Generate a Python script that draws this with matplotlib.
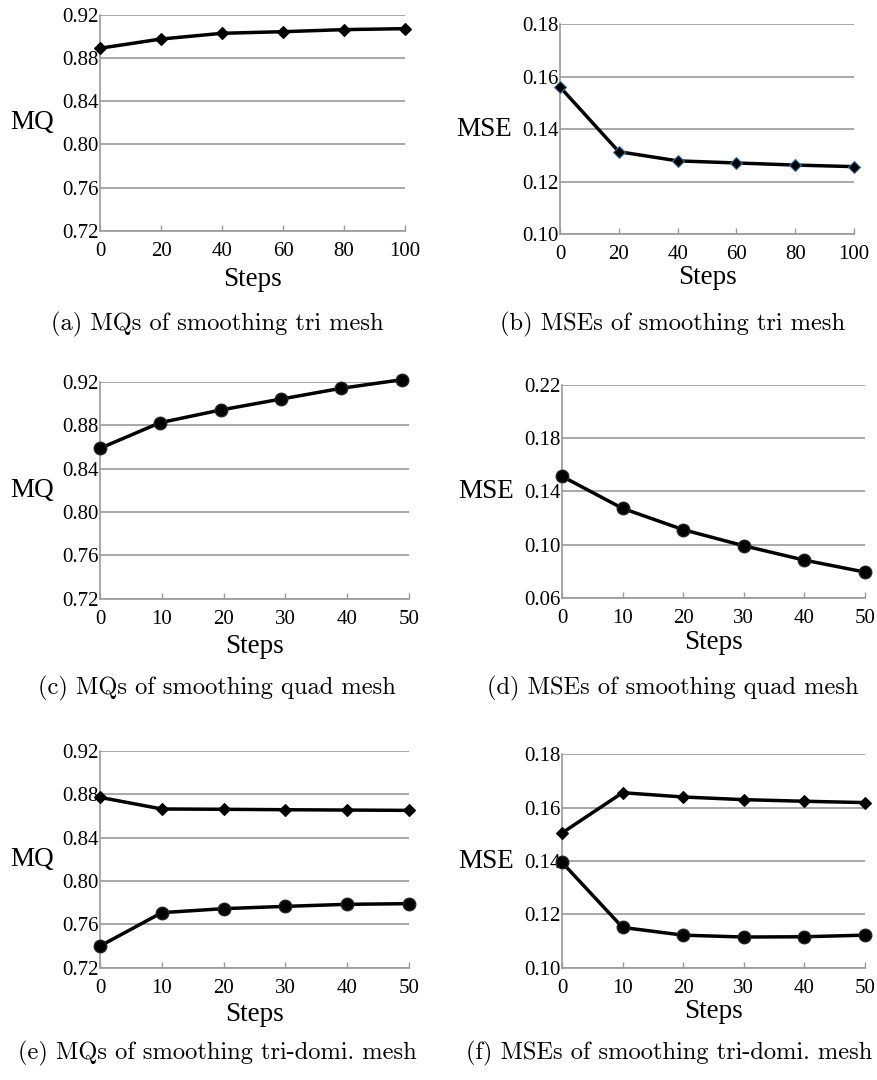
import matplotlib

matplotlib.use('Agg')
import matplotlib.pyplot as plt

# panel (a) / (b): tri mesh
steps_tri = [0, 20, 40, 60, 80, 100]
mq_tri = [0.889, 0.8975, 0.9028, 0.9043, 0.9062, 0.9071]
mse_tri = [0.1561, 0.1314, 0.1279, 0.1271, 0.1263, 0.1257]

# panel (c) / (d): quad mesh
steps_quad_mq = [0, 9.7, 19.5, 29.3, 39.0, 48.8]
mq_quad = [0.8586, 0.8822, 0.8939, 0.9040, 0.9139, 0.9218]
steps_quad = [0, 10, 20, 30, 40, 50]
mse_quad = [0.1513, 0.1272, 0.1112, 0.0991, 0.0883, 0.0793]

# panel (e) / (f): tri-dominant mesh, two series each
steps_dom = [0, 10, 20, 30, 40, 50]
mq_dom_a = [0.8772, 0.8665, 0.8662, 0.8658, 0.8655, 0.8652]
mq_dom_b = [0.740, 0.7708, 0.7745, 0.7766, 0.7785, 0.7791]
mse_dom_a = [0.1505, 0.1656, 0.1640, 0.1630, 0.1624, 0.1619]
mse_dom_b = [0.1395, 0.1151, 0.1122, 0.1115, 0.1116, 0.1122]

captions = [
    '(a) MQs of smoothing tri mesh',
    '(b) MSEs of smoothing tri mesh',
    '(c) MQs of smoothing quad mesh',
    '(d) MSEs of smoothing quad mesh',
    '(e) MQs of smoothing tri-domi. mesh',
    '(f) MSEs of smoothing tri-domi. mesh',
]

W, H = 877, 1080
GRAY = '#9a9a9a'
SERIF = ['Liberation Serif', 'DejaVu Serif']

fig = plt.figure(figsize=(W / 100, H / 100), dpi=100)


def make_axes(l, r, t, b):
    return fig.add_axes([l / W, 1 - b / H, (r - l) / W, (b - t) / H])


def style(ax, xmax, xticks, ylim, yticks, ylabel, lab_off, steps_off):
    ax.set_xlim(0, xmax)
    ax.set_ylim(*ylim)
    ax.set_xticks(xticks)
    ax.set_yticks(yticks)
    ax.set_xticklabels([str(v) for v in xticks], family=SERIF, fontsize=15)
    ax.set_yticklabels([f'{v:.2f}' for v in yticks], family=SERIF, fontsize=15)
    ax.tick_params(axis='x', direction='in', length=4, width=1, color=GRAY, pad=8)
    ax.tick_params(axis='y', length=0, pad=1)
    ax.grid(axis='y', color=GRAY, linewidth=1.2)
    ax.set_axisbelow(True)
    for s in ['top', 'right']:
        ax.spines[s].set_visible(False)
    for s in ['left', 'bottom']:
        ax.spines[s].set_color(GRAY)
        ax.spines[s].set_linewidth(1.2)
    bb = ax.get_position()
    wpx = bb.width * W
    hpx = bb.height * H
    ax.set_ylabel(ylabel, rotation=0, ha='right', va='center',
                  family=SERIF, fontsize=19.5)
    ax.yaxis.set_label_coords(-lab_off / wpx, 0.5)
    ax.set_xlabel('Steps', family=SERIF, fontsize=19.5, va='center')
    ax.xaxis.set_label_coords(0.5, -steps_off / hpx)


def plot_diamond(ax, x, y, edge='black'):
    ax.plot(x, y, '-', color='black', linewidth=2.5, marker='D',
            markersize=6.5, markerfacecolor='black', markeredgecolor=edge,
            markeredgewidth=0.8, clip_on=False, zorder=3)


def plot_circle(ax, x, y):
    ax.plot(x, y, '-', color='black', linewidth=2.5, marker='o',
            markersize=9, markerfacecolor='black', markeredgecolor='#222222',
            clip_on=False, zorder=3)


mq_ticks = [0.72, 0.76, 0.80, 0.84, 0.88, 0.92]

# (a)
ax = make_axes(100, 405, 14.7, 231)
plot_diamond(ax, steps_tri, mq_tri)
style(ax, 100, steps_tri, (0.72, 0.92), mq_ticks, 'MQ', 46, 49)

# (b)
ax = make_axes(560, 854, 24.3, 234)
plot_diamond(ax, steps_tri, mse_tri, edge='#3a6ea5')
style(ax, 100, steps_tri, (0.10, 0.18), [0.10, 0.12, 0.14, 0.16, 0.18],
      'MSE', 48, 43)

# (c)
ax = make_axes(100, 409, 381.7, 598.7)
plot_circle(ax, steps_quad_mq, mq_quad)
style(ax, 50, steps_quad, (0.72, 0.92), mq_ticks, 'MQ', 46, 48)

# (d)
ax = make_axes(562, 864.7, 385, 597.7)
plot_circle(ax, steps_quad, mse_quad)
style(ax, 50, steps_quad, (0.06, 0.22), [0.06, 0.10, 0.14, 0.18, 0.22],
      'MSE', 48, 45)

# (e)
ax = make_axes(100, 409, 751, 967.7)
plot_diamond(ax, steps_dom, mq_dom_a)
plot_circle(ax, steps_dom, mq_dom_b)
style(ax, 50, steps_dom, (0.72, 0.92), mq_ticks, 'MQ', 46, 47)

# (f)
ax = make_axes(562, 864.7, 754.3, 967.7)
plot_diamond(ax, steps_dom, mse_dom_a)
plot_circle(ax, steps_dom, mse_dom_b)
style(ax, 50, steps_dom, (0.10, 0.18), [0.10, 0.12, 0.14, 0.16, 0.18],
      'MSE', 48, 44)

cap_pos = [(217, 324), (673, 324), (217, 688), (673, 688), (217, 1053), (669, 1053)]
for (cx, cy), txt in zip(cap_pos, captions):
    fig.text(cx / W, 1 - cy / H, txt, ha='center', va='center',
             family='cmr10', fontsize=17.6)

fig.savefig('out.png', dpi=100)
